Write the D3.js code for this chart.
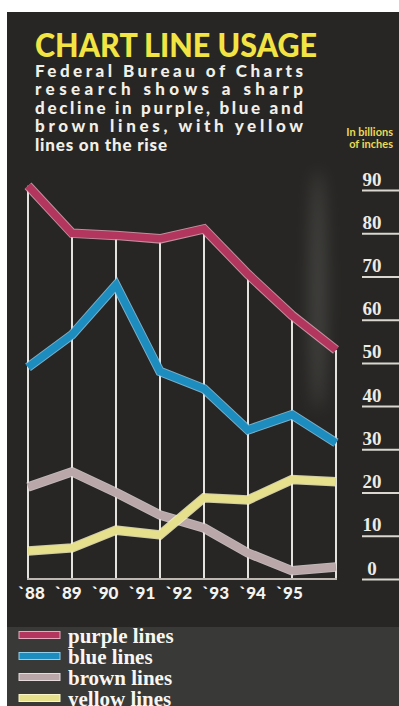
<!DOCTYPE html>
<html>
<head>
<meta charset="utf-8">
<script src="https://cdn.jsdelivr.net/npm/d3@7"></script>
<style>
  body { margin: 0; background: #fff; }
  svg { display: block; }
</style>
</head>
<body>
<div class="graph"></div>
<script>
// values, billions of inches
const years = ["88", "89", "90", "91", "92", "93", "94", "95"];
const purple = [91, 80, 79.5, 78.7, 81, 70.5, 61, 53];
const blue = [49, 56.5, 68, 48, 44, 34.5, 38, 31.5];
const brown = [21.3, 24.8, 20, 14.8, 11.8, 6, 1.9, 2.8];
const yellow = [6.5, 7.2, 11.3, 10.2, 18.8, 18.3, 23, 22.5];
const yTicks = [0, 10, 20, 30, 40, 50, 60, 70, 80, 90];
const subtitle = [
  "Federal Bureau of Charts",
  "research shows a sharp",
  "decline in purple, blue and",
  "brown lines, with yellow",
  "lines on the rise"
];
const legendNames = ["purple lines", "blue lines", "brown lines", "yellow lines"];

const colors = ["#b3365f", "#1d8cbf", "#b9a7a9", "#e6df8c"];
const edges = ["#e7a9bd", "#8fd0ee", "#e6dbdc", "#fbf6c8"];

const W = 399, H = 706;
var svg = d3.select(".graph").append("svg").attr("width", W).attr("height", H);

// background
svg.append("rect").attr("x", 7).attr("y", 12).attr("width", W - 7).attr("height", H - 12)
  .attr("fill", "#272624");
svg.append("rect").attr("x", 7).attr("y", 627).attr("width", W - 7).attr("height", H - 627)
  .attr("fill", "#393937");
// faint smoky streak on the right
var defs = svg.append("defs");
defs.append("filter").attr("id", "blur")
  .attr("x", "-300%").attr("y", "-50%").attr("width", "700%").attr("height", "200%")
  .append("feGaussianBlur").attr("stdDeviation", 8);
svg.append("ellipse").attr("cx", 318).attr("cy", 290).attr("rx", 8).attr("ry", 120)
  .attr("fill", "#8a8a86").attr("opacity", 0.3).attr("filter", "url(#blur)");

// title + subtitle
svg.append("text").attr("x", 35).attr("y", 57)
  .attr("textLength", 282).attr("lengthAdjust", "spacingAndGlyphs")
  .style("font-family", "Lato").style("font-weight", 900).style("font-size", "33px")
  .attr("fill", "#f2e443").text("CHART LINE USAGE");

svg.selectAll(".sub").data(subtitle).enter().append("text")
  .attr("class", "sub")
  .attr("x", 35)
  .attr("y", (d, i) => 77 + i * 18.4)
  .attr("textLength", (d, i) => i < 4 ? 268 : null)
  .attr("lengthAdjust", "spacing")
  .style("letter-spacing", (d, i) => i < 4 ? null : "0.8px")
  .style("font-family", "Lato").style("font-weight", 900).style("font-size", "17px")
  .attr("fill", "#f1efe8").text(d => d);

svg.append("text").attr("x", 393).attr("y", 136).attr("text-anchor", "end")
  .style("font-family", "Lato").style("font-weight", 700).style("font-size", "11px")
  .attr("fill", "#e8dc55").text("In billions");
svg.append("text").attr("x", 393).attr("y", 148).attr("text-anchor", "end")
  .style("font-family", "Lato").style("font-weight", 700).style("font-size", "11px")
  .attr("fill", "#e8dc55").text("of inches");

// scales
const xScale = d3.scalePoint().domain(years).range([28, 336]);
const xLabel = d3.scalePoint().domain(years).range([31, 289]);
const yScale = d3.scaleLinear().domain([0, 90]).range([579, 190]);

var g = svg.append("g");

// vertical rules from the top line down to zero
g.selectAll(".vrule").data(years).enter().append("line")
  .attr("class", "vrule")
  .attr("x1", d => xScale(d)).attr("x2", d => xScale(d))
  .attr("y1", (d, i) => yScale(purple[i])).attr("y2", yScale(0))
  .attr("stroke", "#e4e2df").attr("stroke-width", 2);
g.append("line")
  .attr("x1", xScale(years[0]) - 1).attr("x2", xScale(years[years.length - 1]) + 1)
  .attr("y1", yScale(0)).attr("y2", yScale(0))
  .attr("stroke", "#bdb9b2").attr("stroke-width", 2);

const lineFunc = d3.line()
  .x((d, i) => xScale(years[i]))
  .y(d => yScale(d));

// draw order: brown, yellow, blue, purple
const series = [purple, blue, brown, yellow];
[2, 3, 1, 0].forEach(k => {
  g.append("path").attr("d", lineFunc(series[k]))
    .attr("fill", "none").attr("stroke", edges[k]).attr("stroke-width", 9.5)
    .attr("stroke-linejoin", "miter").attr("opacity", 0.8);
  g.append("path").attr("d", lineFunc(series[k]))
    .attr("fill", "none").attr("stroke", colors[k]).attr("stroke-width", 7.5)
    .attr("stroke-linejoin", "miter");
});

// right axis with underlined numbers
const yaxis = d3.axisRight(yScale).tickValues(yTicks).tickSize(37).tickSizeOuter(0);
var ya = svg.append("g").attr("transform", "translate(362,0)").call(yaxis);
ya.select(".domain").remove();
ya.selectAll(".tick line").attr("stroke", "#d9d7d0").attr("stroke-width", 2);
ya.selectAll(".tick text")
  .attr("x", 10).attr("dy", "-5px").attr("text-anchor", "middle")
  .style("font-family", "Liberation Serif").style("font-weight", 700).style("font-size", "19px")
  .attr("fill", "#ecebe6");

// year labels
const xaxis = d3.axisBottom(xLabel).tickSize(0).tickFormat(d => "`" + d);
var xa = svg.append("g").attr("transform", "translate(0,584)").call(xaxis);
xa.select(".domain").remove();
xa.selectAll(".tick text").attr("dy", "0.71em")
  .style("font-family", "Lato").style("font-weight", 900).style("font-size", "17px")
  .attr("fill", "#f4f3ef");

// legend
var leg = svg.selectAll(".leg").data(legendNames).enter().append("g")
  .attr("class", "leg")
  .attr("transform", (d, i) => "translate(0," + (635 + i * 21) + ")");
leg.append("rect").attr("x", 19).attr("y", -3.5).attr("width", 41).attr("height", 7)
  .attr("fill", (d, i) => colors[i]).attr("stroke", (d, i) => edges[i]).attr("stroke-width", 1);
leg.append("text").attr("x", 68).attr("y", 8)
  .style("font-family", "Liberation Serif").style("font-weight", 700).style("font-size", "21px")
  .attr("fill", "#f7f6f2").text(d => d);
</script>
</body>
</html>
